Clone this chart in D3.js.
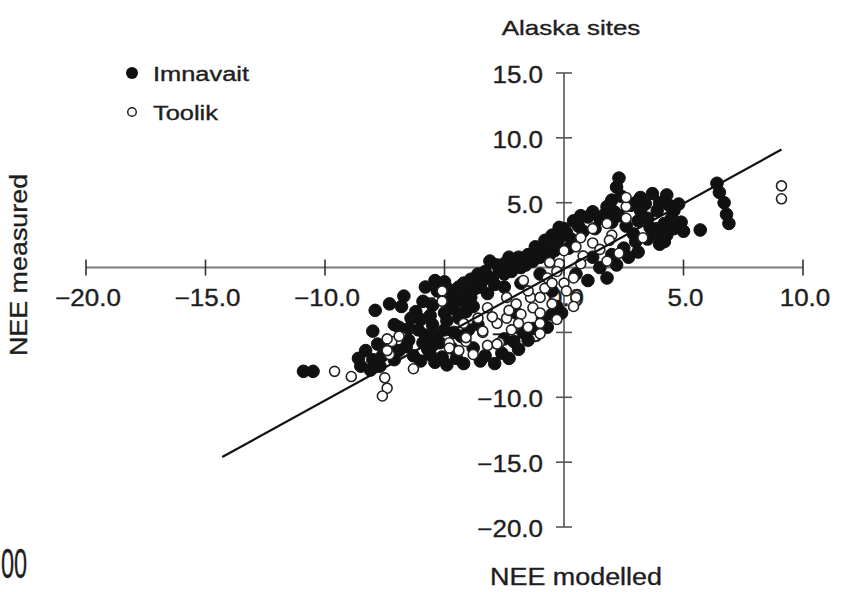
<!DOCTYPE html>
<html>
<head>
<meta charset="utf-8">
<script src="https://cdn.jsdelivr.net/npm/d3@7"></script>
<style>
  body { margin: 0; background: #fff; }
  svg text { font-family: "Liberation Sans", Arial, Helvetica, sans-serif; fill: #1e1e1e; stroke: #1e1e1e; stroke-width: 0.35px; }
</style>
</head>
<body>
<script>

    // axis ticks
    const xTicks = [-20, -15, -10, -5, 0, 5, 10];
    const yTicks = [-20, -15, -10, -5, 0, 5, 10, 15];

    // [NEE modelled, NEE measured]
    const imnavait = [
      [-10.9,-8.0],[-10.5,-8.0],
      [-7.9,-3.3],[-7.3,-2.8],[-6.7,-2.2],[-5.8,-1.5],[-5.4,-1.0],[-5.0,-1.1],[-5.3,-1.8],[-4.8,-1.7],
      [-8.0,-4.9],[-7.1,-4.4],[-6.9,-4.6],[-6.5,-5.6],[-6.6,-6.1],
      [-8.3,-6.4],[-8.0,-7.1],[-7.6,-6.8],[-7.8,-5.9],[-8.5,-7.6],[-8.1,-7.9],[-7.7,-7.6],[-7.1,-7.1],[-6.9,-6.4],[-7.3,-6.0],[-8.6,-7.0],
      [-5.5,-2.9],[-5.6,-3.7],[-5.5,-4.4],[-5.4,-5.2],[-5.5,-6.0],[-5.6,-6.7],[-5.4,-7.3],[-5.1,-6.9],[-5.2,-5.8],[-5.0,-4.8],
      [-5.8,-5.2],[-6.0,-4.0],[-6.2,-3.4],[-5.9,-2.6],[-5.0,-3.5],[-4.8,-2.7],[-6.1,-4.8],[-5.7,-6.3],
      [-6.8,-3.0],[-6.4,-3.9],[-6.5,-4.7],[-6.3,-6.8],[-6.0,-7.2],[-5.9,-5.8],[-4.7,-6.2],[-4.5,-7.0],[-4.9,-7.5],
      [-4.6,-3.2],[-4.2,-2.6],[-3.9,-2.3],[-4.1,-3.4],[-4.3,-5.3],
      [-4.4,-1.5],[-4.2,-1.2],[-3.9,-0.9],[-3.6,-0.5],[-3.1,0.5],[-2.8,0.2],[-2.5,0.3],[-2.0,0.3],[-1.9,0.8],[-1.5,1.0],
      [-1.2,1.6],[-0.9,1.6],[-0.8,2.1],[-0.5,2.5],[-0.2,2.3],[-0.2,3.1],[0.0,3.0],[0.4,3.6],[1.0,3.9],[1.5,3.8],[1.8,4.7],
      [-0.7,2.1],[-4.5,-2.3],[-4.0,-2.0],[-3.5,-1.5],[-3.0,-0.8],[-2.5,-0.5],[-2.2,-0.3],[-1.6,0.2],[-1.0,0.8],[-0.4,1.3],
      [0.3,2.2],[0.8,2.8],[1.3,3.0],[2.0,3.5],
      [-3.7,-1.6],[-3.3,-0.3],[-3.4,-1.0],[-2.9,-1.3],[-2.7,-0.2],[-2.3,0.8],[-1.8,0.0],[-1.3,0.5],[-1.1,1.2],[-0.6,1.0],
      [-0.3,1.8],[0.2,1.5],[0.1,2.7],[0.6,3.2],[0.7,4.0],[1.2,4.3],[1.7,4.1],[2.1,4.3],[2.0,5.2],[2.3,4.0],
      [-4.4,-3.9],[-4.9,-4.1],[-3.8,-3.0],[-3.2,-2.0],[-2.5,-1.5],[-1.8,-1.2],[-1.0,-0.5],[-4.2,-7.4],[-2.9,-7.4],[-2.1,-5.7],
      [-1.3,-4.7],[-0.9,-3.9],[-2.5,-5.5],[-1.7,-5.0],[-3.3,-6.8],[-3.8,-6.2],[-4.6,-5.0],[-4.0,-4.8],[-0.3,-3.0],
      [1.0,-1.0],[1.5,0.0],[2.0,1.0],[2.5,1.5],[0.5,-0.5],[1.2,0.8],[-0.5,-1.8],
      [-3.5,-7.2],[-2.6,-6.6],[-2.3,-7.0],[-1.9,-6.3],[-1.5,-5.6],[-0.7,-4.6],[-0.5,-3.6],[-0.1,-3.5],
      [1.8,-0.8],[2.2,0.2],[2.7,0.8],[3.1,1.2],[-3.6,-4.4],[-2.0,-3.5],
      [2.3,6.9],[2.2,6.2],[2.4,5.5],[3.2,5.4],[3.7,5.7],[4.3,5.6],[3.2,4.4],[3.9,4.4],[4.6,4.4],[4.9,3.5],[4.3,2.5],[3.6,3.1],
      [3.1,3.6],[2.8,4.8],[4.2,3.4],[3.5,2.2],[4.0,1.8],[5.0,2.8],[4.6,3.0],[2.9,2.6],[3.4,4.9],[4.0,5.0],[2.6,3.2],[3.0,2.0],
      [3.5,3.8],[4.5,3.8],[3.9,3.0],[4.8,4.9],[4.4,4.8],[3.0,5.0],[4.2,2.0],[3.8,2.6],
      [5.7,2.9],[6.4,6.5],[6.5,5.8],[6.7,5.0],[6.8,4.1],[6.9,3.4]
    ];

    const toolik = [
      [-9.6,-8.0],[-8.9,-8.4],[-7.5,-8.5],[-7.4,-9.3],[-7.6,-9.9],[-7.3,-6.7],[-7.2,-5.7],[-6.3,-7.8],[-7.4,-5.5],[-7.4,-6.4],[-6.9,-5.3],
      [-5.1,-2.6],[-5.1,-1.8],
      [-4.8,-5.8],[-4.4,-6.4],[-3.8,-6.7],[-3.2,-6.0],[-2.7,-5.8],[-3.4,-5.0],[-4.1,-5.7],[-4.8,-6.2],[-4.1,-5.4],[-3.4,-4.9],
      [-2.8,-5.9],[-2.8,-4.3],[-3.2,-3.1],[-3.6,-3.9],[-4.2,-4.3],[-3.0,-3.8],[-2.2,-4.8],[-1.5,-4.6],
      [-2.4,-3.9],[-1.8,-3.6],[-1.4,-2.3],[-1.0,-2.3],[-1.3,-3.1],[-1.9,-4.3],[-1.0,-4.3],[-1.0,-5.1],[-1.0,-3.5],[-2.3,-3.3],
      [-2.4,-2.3],[-2.0,-2.8],[-1.7,-1.0],[-1.5,-1.8],[-0.7,-0.8],[-0.8,-1.6],[0.0,-1.2],[-0.2,0.3],[-0.6,0.4],[-0.5,-1.2],
      [0.1,-1.8],[0.5,-2.3],[0.4,-0.8],[-0.3,-0.3],[-0.5,-2.8],[-0.3,-4.0],[0.4,-3.0],
      [0.0,1.3],[0.7,2.3],[1.2,1.9],[1.2,3.0],[0.8,0.9],[1.5,1.4],[2.0,2.5],[1.8,3.4],[0.5,1.6],[1.9,2.1],[1.8,0.5],[0.7,0.3],
      [2.3,1.1],[3.3,2.3],
      [2.6,4.7],[2.6,3.8],[2.6,5.4],
      [9.1,6.3],[9.1,5.3]
    ];

    // regression line end points
    const fitX = [-14.3, 9.1];
    const fitY = [-14.6, 9.1];

    var width = 845, height = 592;

    var x = d3.scaleLinear().domain([-20, 10]).range([86, 803]);
    var y = d3.scaleLinear().domain([-20, 15]).range([527, 73]);
    var fmt = d3.format(".1f");

    var svg = d3.select("body").append("svg")
        .attr("width", width)
        .attr("height", height);

    // helper: horizontally stretched text like the scanned figure
    function label(g, tx, ty, txt, size, sx, anchor, rot) {
      var t = g.append("g")
          .attr("transform", `translate(${tx},${ty}) rotate(${rot || 0}) scale(${sx},1)`)
        .append("text")
          .attr("text-anchor", anchor)
          .style("font-size", size + "px")
          .text(txt);
      return t;
    }

    // axes lines
    svg.append("line")
        .attr("x1", x(-20)).attr("x2", x(10))
        .attr("y1", y(0)).attr("y2", y(0))
        .attr("stroke", "#7a7a7a").attr("stroke-width", 2);

    svg.append("line")
        .attr("x1", x(0)).attr("x2", x(0))
        .attr("y1", y(-20)).attr("y2", y(15))
        .attr("stroke", "#555").attr("stroke-width", 1.6);

    // ticks crossing the axes
    svg.selectAll(".xtick").data(xTicks).enter().append("line")
        .attr("x1", d => x(d)).attr("x2", d => x(d))
        .attr("y1", y(0) - 8).attr("y2", y(0) + 8)
        .attr("stroke", "#333").attr("stroke-width", 1.6);

    svg.selectAll(".ytick").data(yTicks.filter(d => d != 0)).enter().append("line")
        .attr("x1", x(0) - 8).attr("x2", x(0) + 8)
        .attr("y1", d => y(d)).attr("y2", d => y(d))
        .attr("stroke", "#555").attr("stroke-width", 1.6);

    // tick labels
    var tl = svg.append("g");
    xTicks.forEach(function(d) {
      label(tl, x(d) + 2, y(0) + 38, fmt(d), 23, 1.13, "middle");
    });
    yTicks.filter(d => d != 0).forEach(function(d) {
      label(tl, x(0) - 21, y(d) + 10, fmt(d), 23, 1.13, "end");
    });

    // data points
    svg.append("g").selectAll("circle")
      .data(imnavait)
      .enter().append("circle")
        .attr("cx", d => x(d[0]))
        .attr("cy", d => y(d[1]))
        .attr("r", 6.3)
        .attr("fill", "#111")
        .attr("stroke", "#111")
        .attr("stroke-width", 1);

    svg.append("g").selectAll("circle")
      .data(toolik)
      .enter().append("circle")
        .attr("cx", d => x(d[0]))
        .attr("cy", d => y(d[1]))
        .attr("r", 5)
        .attr("fill", "#fff")
        .attr("stroke", "#222")
        .attr("stroke-width", 1.6);

    // fit line
    svg.append("line")
        .attr("x1", x(fitX[0])).attr("y1", y(fitY[0]))
        .attr("x2", x(fitX[1])).attr("y2", y(fitY[1]))
        .attr("stroke", "#111").attr("stroke-width", 2.2);

    // titles
    label(svg, 571, 35, "Alaska sites", 20, 1.3, "middle");
    label(svg, 576, 585, "NEE modelled", 23, 1.17, "middle");
    label(svg, 27, 265, "NEE measured", 24, 1.12, "middle", -90);
    label(svg, 1, 578, "00", 42, 0.56, "start");

    // legend
    svg.append("circle").attr("cx", 132).attr("cy", 73).attr("r", 6)
        .attr("fill", "#111");
    label(svg, 153, 81, "Imnavait", 20, 1.27, "start");
    svg.append("circle").attr("cx", 132).attr("cy", 112).attr("r", 4.3)
        .attr("fill", "#fff").attr("stroke", "#222").attr("stroke-width", 1.5);
    label(svg, 153, 120, "Toolik", 20, 1.27, "start");

</script>
</body>
</html>
